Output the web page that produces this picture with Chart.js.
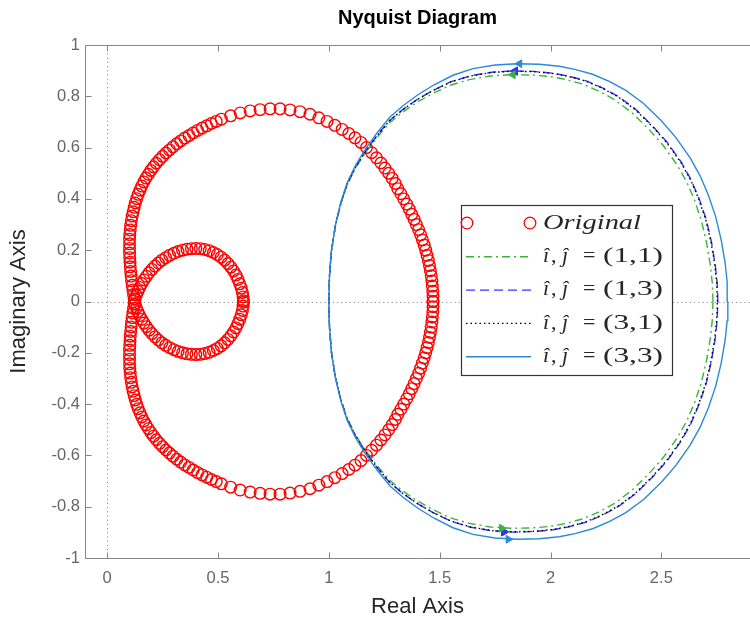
<!DOCTYPE html>
<html><head><meta charset="utf-8">
<script src="https://cdn.jsdelivr.net/npm/chart.js@4.4.0/dist/chart.umd.min.js"></script>
<style>html,body{margin:0;padding:0;background:#fff;}</style>
</head><body>
<canvas id="c" width="750" height="630"></canvas>
<script>
// ---------- tick labels ----------
const xTicks = [0, 0.5, 1, 1.5, 2, 2.5];
const yTicks = [-1, -0.8, -0.6, -0.4, -0.2, 0, 0.2, 0.4, 0.6, 0.8, 1];

// ---------- Original (red circles): outer loop, top, left side, inner loop ----------
const origRe = [1.470,1.470,1.469,1.467,1.465,1.462,1.458,1.454,1.449,1.443,1.437,1.430,1.422,1.414,1.405,1.395,1.385,1.374,1.363,1.351,1.338,1.325,1.311,1.300,1.286,1.270,1.253,1.235,1.215,1.193,1.170,1.145,1.118,1.090,1.060,1.027,0.992,0.955,
0.915,0.870,0.825,0.780,0.735,0.690,0.645,0.600,0.557,0.515,
0.492,0.470,0.449,0.428,0.408,0.388,0.369,0.350,0.332,0.314,0.297,0.281,0.265,0.250,0.236,0.222,0.209,0.197,0.186,0.175,0.165,0.156,0.148,0.140,0.133,0.127,0.122,0.117,0.113,0.109,0.106,0.104,0.102,0.101,0.101,0.101,0.101,0.102,0.103,0.104,0.106,0.108,0.110,0.113,0.116,0.119,0.122,
0.126,0.132,0.139,0.147,0.156,0.166,0.177,0.189,0.202,0.216,0.231,0.247,0.264,0.282,0.301,0.320,0.340,0.360,0.380,0.400,0.420,0.440,0.460,0.479,0.497,0.514,0.530,0.545,0.558,0.570,0.581,0.590,0.598,0.605,0.610,0.613,0.615];
const origImUpper = [0.000,0.020,0.040,0.060,0.080,0.100,0.120,0.140,0.160,0.180,0.200,0.220,0.240,0.260,0.280,0.300,0.320,0.340,0.360,0.380,0.400,0.420,0.440,0.460,0.480,0.500,0.520,0.540,0.560,0.580,0.600,0.620,0.638,0.655,0.671,0.687,0.702,0.716,
0.730,0.740,0.747,0.751,0.751,0.748,0.743,0.735,0.724,0.711,
0.702,0.694,0.685,0.676,0.667,0.657,0.647,0.637,0.626,0.615,0.603,0.591,0.579,0.566,0.553,0.539,0.525,0.511,0.496,0.481,0.466,0.450,0.434,0.418,0.401,0.384,0.367,0.350,0.333,0.315,0.297,0.279,0.261,0.243,0.225,0.207,0.189,0.171,0.153,0.135,0.117,0.099,0.081,0.063,0.045,0.027,0.009,
0.010,0.025,0.040,0.055,0.070,0.084,0.098,0.112,0.125,0.138,0.150,0.161,0.171,0.180,0.188,0.195,0.200,0.204,0.206,0.207,0.206,0.203,0.198,0.191,0.183,0.173,0.161,0.148,0.134,0.119,0.103,0.086,0.069,0.052,0.035,0.018,0.003];
const origImLower = [-0.000,-0.020,-0.040,-0.060,-0.080,-0.100,-0.120,-0.140,-0.160,-0.180,-0.200,-0.220,-0.240,-0.260,-0.280,-0.300,-0.320,-0.340,-0.360,-0.380,-0.400,-0.420,-0.440,-0.460,-0.480,-0.500,-0.520,-0.540,-0.560,-0.580,-0.600,-0.620,-0.638,-0.655,-0.671,-0.687,-0.702,-0.716,
-0.730,-0.740,-0.747,-0.751,-0.751,-0.748,-0.743,-0.735,-0.724,-0.711,
-0.702,-0.694,-0.685,-0.676,-0.667,-0.657,-0.647,-0.637,-0.626,-0.615,-0.603,-0.591,-0.579,-0.566,-0.553,-0.539,-0.525,-0.511,-0.496,-0.481,-0.466,-0.450,-0.434,-0.418,-0.401,-0.384,-0.367,-0.350,-0.333,-0.315,-0.297,-0.279,-0.261,-0.243,-0.225,-0.207,-0.189,-0.171,-0.153,-0.135,-0.117,-0.099,-0.081,-0.063,-0.045,-0.027,-0.009,
-0.010,-0.025,-0.040,-0.055,-0.070,-0.084,-0.098,-0.112,-0.125,-0.138,-0.150,-0.161,-0.171,-0.180,-0.188,-0.195,-0.200,-0.204,-0.206,-0.207,-0.206,-0.203,-0.198,-0.191,-0.183,-0.173,-0.161,-0.148,-0.134,-0.119,-0.103,-0.086,-0.069,-0.052,-0.035,-0.018,-0.003];

// ---------- approximations (upper half right->left; lower half right->left) ----------
const s11Re = [2.733,2.730,2.721,2.704,2.681,2.650,2.614,2.570,2.508,2.444,2.366,2.289,2.217,2.143,2.066,1.998,1.913,1.820,1.727,1.634,1.547,1.466,1.393,1.330,1.273,1.218,1.163,1.119,1.082,1.054,1.029,1.011,1.002,1.000];
const s11ImUpper = [0.000,0.071,0.143,0.229,0.315,0.395,0.467,0.534,0.609,0.671,0.737,0.787,0.821,0.848,0.866,0.877,0.883,0.884,0.879,0.865,0.843,0.810,0.774,0.736,0.696,0.640,0.578,0.518,0.454,0.382,0.294,0.196,0.098,0.000];
const s11ImLower = [-0.000,-0.071,-0.143,-0.229,-0.315,-0.395,-0.467,-0.534,-0.609,-0.671,-0.737,-0.787,-0.821,-0.848,-0.866,-0.877,-0.883,-0.884,-0.879,-0.865,-0.843,-0.810,-0.774,-0.736,-0.696,-0.640,-0.578,-0.518,-0.454,-0.382,-0.294,-0.196,-0.098,-0.000];

const s13Re = [2.755,2.752,2.743,2.726,2.702,2.670,2.634,2.590,2.527,2.462,2.383,2.305,2.232,2.158,2.080,2.012,1.925,1.830,1.735,1.640,1.552,1.470,1.396,1.332,1.275,1.219,1.164,1.120,1.083,1.055,1.030,1.012,1.003,1.000];
const s13ImUpper = [0.000,0.072,0.145,0.233,0.321,0.402,0.475,0.543,0.620,0.683,0.750,0.800,0.834,0.861,0.879,0.890,0.897,0.899,0.894,0.880,0.857,0.823,0.786,0.747,0.706,0.649,0.585,0.524,0.459,0.386,0.297,0.198,0.099,0.000];
const s13ImLower = [-0.000,-0.072,-0.145,-0.233,-0.321,-0.402,-0.475,-0.543,-0.620,-0.683,-0.750,-0.800,-0.834,-0.861,-0.879,-0.890,-0.897,-0.899,-0.894,-0.880,-0.857,-0.823,-0.786,-0.747,-0.706,-0.649,-0.585,-0.524,-0.459,-0.386,-0.297,-0.198,-0.099,-0.000];

const s31Re = [2.753,2.750,2.741,2.724,2.700,2.668,2.632,2.588,2.525,2.460,2.381,2.303,2.230,2.157,2.079,2.011,1.924,1.829,1.734,1.639,1.551,1.469,1.395,1.331,1.274,1.219,1.164,1.120,1.083,1.055,1.030,1.012,1.003,1.000];
const s31ImUpper = [0.000,0.072,0.145,0.232,0.320,0.401,0.474,0.542,0.619,0.682,0.749,0.799,0.833,0.860,0.878,0.889,0.896,0.898,0.893,0.879,0.856,0.822,0.785,0.746,0.705,0.648,0.584,0.523,0.458,0.385,0.296,0.197,0.099,0.000];
const s31ImLower = [-0.000,-0.072,-0.145,-0.232,-0.320,-0.401,-0.474,-0.542,-0.619,-0.682,-0.749,-0.799,-0.833,-0.860,-0.878,-0.889,-0.896,-0.898,-0.893,-0.879,-0.856,-0.822,-0.785,-0.746,-0.705,-0.648,-0.584,-0.523,-0.458,-0.385,-0.296,-0.197,-0.099,-0.000];

const s33Re = [2.800,2.797,2.788,2.770,2.745,2.712,2.675,2.630,2.565,2.500,2.420,2.340,2.265,2.190,2.110,2.040,1.950,1.850,1.750,1.650,1.560,1.475,1.400,1.335,1.277,1.220,1.164,1.120,1.083,1.055,1.030,1.012,1.003,1.000];
const s33ImUpper = [0.000,0.074,0.150,0.240,0.331,0.415,0.490,0.560,0.640,0.705,0.772,0.823,0.858,0.886,0.905,0.917,0.925,0.927,0.922,0.908,0.882,0.845,0.805,0.763,0.720,0.660,0.593,0.530,0.464,0.390,0.300,0.200,0.100,0.000];
const s33ImLower = [-0.000,-0.074,-0.150,-0.240,-0.331,-0.415,-0.490,-0.560,-0.640,-0.705,-0.772,-0.823,-0.858,-0.886,-0.905,-0.917,-0.925,-0.927,-0.922,-0.908,-0.882,-0.845,-0.805,-0.763,-0.720,-0.660,-0.593,-0.530,-0.464,-0.390,-0.300,-0.200,-0.100,-0.000];

// ---------- direction arrows (top, bottom) ----------
const arrow11Re = [1.83, 1.78], arrow11Im = [0.884, -0.884];
const arrow13Re = [1.84, 1.79], arrow13Im = [0.899, -0.899];
const arrow31Re = [1.84, 1.79], arrow31Im = [0.898, -0.898];
const arrow33Re = [1.86, 1.81], arrow33Im = [0.927, -0.927];
const arrowRot = [-90, 90];

const labels = ['Original', 'î,ĵ = (1,1)', 'î,ĵ = (1,3)', 'î,ĵ = (3,1)', 'î,ĵ = (3,3)'];

function pts(re, im) { return re.map((v, i) => ({x: v, y: im[i]})); }
function loop(re, up, lo) { return pts(re, up).concat(pts(re, lo).reverse()); }

const cGreen = '#3cb43c', cBlue = '#3535ff', cBlack = '#000000', cLight = '#2a8ad4', cRed = '#ff0000';

function lineDs(label, data, color, dash, order) {
  return {label, data, showLine: true, borderColor: color, backgroundColor: color, borderWidth: 1.4,
    borderDash: dash, pointRadius: 0, tension: 0, order, fill: false};
}
function arrowDs(re, im, color) {
  return {label: '', data: pts(re, im), showLine: false, pointStyle: 'triangle', pointRadius: 4.5,
    pointRotation: arrowRot, pointBackgroundColor: color, pointBorderColor: color, pointBorderWidth: 1, order: 0, isArrow: true};
}

const datasets = [
  {label: labels[0], data: pts(origRe, origImUpper).concat(pts(origRe, origImLower)), showLine: false,
   pointStyle: 'circle', pointRadius: 5.8, pointBorderWidth: 1.4, pointBorderColor: cRed,
   pointBackgroundColor: 'rgba(0,0,0,0)', borderColor: cRed, order: 6},
  lineDs(labels[1], loop(s11Re, s11ImUpper, s11ImLower), cGreen, [8, 4, 2, 4], 5),
  lineDs(labels[2], loop(s13Re, s13ImUpper, s13ImLower), cBlue, [9, 5], 4),
  lineDs(labels[3], loop(s31Re, s31ImUpper, s31ImLower), cBlack, [1.5, 3], 3),
  lineDs(labels[4], loop(s33Re, s33ImUpper, s33ImLower), cLight, [], 2),
  arrowDs(arrow11Re, arrow11Im, cGreen),
  arrowDs(arrow13Re, arrow13Im, cBlue),
  arrowDs(arrow31Re, arrow31Im, cBlack),
  arrowDs(arrow33Re, arrow33Im, cLight)
];

const axisColor = '#858585';
const framePlugin = {
  id: 'frame',
  beforeDatasetsDraw(chart) {
    const {ctx, chartArea: a, scales: {x, y}} = chart;
    ctx.save();
    ctx.strokeStyle = '#909090'; ctx.lineWidth = 1; ctx.setLineDash([1.2, 3]);
    const x0 = Math.round(x.getPixelForValue(0)) + 0.5;
    ctx.beginPath(); ctx.moveTo(x0, a.top); ctx.lineTo(x0, a.bottom); ctx.stroke();
    const y0 = Math.round(y.getPixelForValue(0)) + 0.5;
    ctx.beginPath(); ctx.moveTo(a.left, y0); ctx.lineTo(a.right, y0); ctx.stroke();
    ctx.restore();
  },
  afterDatasetsDraw(chart) {
    const {ctx, chartArea: a, scales: {x, y}} = chart;
    ctx.save();
    ctx.strokeStyle = axisColor; ctx.lineWidth = 1; ctx.setLineDash([]);
    const L = Math.round(a.left) + 0.5, T = Math.round(a.top) + 0.5, B = Math.round(a.bottom) + 0.5, R = a.right;
    ctx.beginPath();
    ctx.moveTo(L, T); ctx.lineTo(R, T);
    ctx.moveTo(L, T); ctx.lineTo(L, B);
    ctx.moveTo(L, B); ctx.lineTo(R, B);
    const tl = 6;
    x.ticks.forEach(t => { const px = Math.round(x.getPixelForValue(t.value)) + 0.5;
      ctx.moveTo(px, B); ctx.lineTo(px, B - tl); ctx.moveTo(px, T); ctx.lineTo(px, T + tl); });
    y.ticks.forEach(t => { const py = Math.round(y.getPixelForValue(t.value)) + 0.5;
      ctx.moveTo(L, py); ctx.lineTo(L + tl, py); });
    ctx.stroke();
    ctx.restore();
  }
};

const legendPlugin = {
  id: 'boxLegend',
  afterDraw(chart) {
    const ctx = chart.ctx;
    const bx = 461, by = 205, bw = 211, bh = 170;
    ctx.save();
    ctx.fillStyle = '#ffffff'; ctx.fillRect(bx, by, bw, bh);
    ctx.strokeStyle = '#333333'; ctx.lineWidth = 1.2; ctx.setLineDash([]);
    ctx.strokeRect(bx + 0.5, by + 0.5, bw, bh);
    const rowY0 = 223, rowH = 33.3, sx0 = 466, sx1 = 531, tx = 543;
    const dsList = chart.data.datasets.filter(d => !d.isArrow);
    dsList.forEach((d, i) => {
      const yy = rowY0 + i * rowH;
      ctx.save();
      if (!d.showLine) {
        ctx.strokeStyle = d.pointBorderColor; ctx.lineWidth = 1.3;
        [sx0 + 1, sx1 - 1].forEach(cx => { ctx.beginPath(); ctx.arc(cx, yy, 5.8, 0, Math.PI * 2); ctx.stroke(); });
      } else {
        ctx.strokeStyle = d.borderColor; ctx.lineWidth = 1.4; ctx.setLineDash(d.borderDash || []);
        ctx.beginPath(); ctx.moveTo(sx0, yy + 0.5); ctx.lineTo(sx1, yy + 0.5); ctx.stroke();
      }
      ctx.restore();
      ctx.save();
      ctx.fillStyle = '#262626'; ctx.textBaseline = 'middle';
      const fam = "'Liberation Serif', 'DejaVu Serif', serif";
      const drawFit = (txt, x, w, font) => {
        ctx.font = font; const m = ctx.measureText(txt).width;
        ctx.save(); ctx.translate(x, yy); ctx.scale(w / m, 1); ctx.fillText(txt, 0, 0); ctx.restore();
      };
      const m = /^(î),(ĵ) = \((.*)\)$/.exec(d.label);
      if (!m) {
        drawFit(d.label, tx, 98, 'italic 22px ' + fam);
      } else {
        ctx.font = 'italic 22px ' + fam; ctx.fillText(m[1], tx, yy);
        ctx.font = '22px ' + fam; ctx.fillText(',', tx + 8, yy);
        ctx.font = 'italic 22px ' + fam; ctx.fillText(m[2], tx + 19, yy);
        ctx.font = '22px ' + fam; ctx.fillText('=', tx + 40, yy);
        drawFit('(' + m[3] + ')', tx + 60, 60, '22px ' + fam);
      }
      ctx.restore();
    });
    ctx.restore();
  }
};

const fmt = v => String(Math.round(v * 10) / 10);

new Chart(document.getElementById('c'), {
  type: 'scatter',
  data: {datasets},
  options: {
    responsive: false, animation: false, devicePixelRatio: 1, events: [],
    layout: {padding: 0, autoPadding: false},
    plugins: {
      legend: {display: false}, tooltip: {enabled: false},
      title: {display: true, fullSize: false, text: 'Nyquist Diagram', color: '#000',
        font: {family: "'Liberation Sans', Arial, sans-serif", size: 20, weight: 'bold'},
        padding: {top: 6, bottom: 15}}
    },
    scales: {
      x: {type: 'linear', min: -0.1, max: 2.9,
        grid: {display: false, drawTicks: false}, border: {display: false},
        afterBuildTicks: s => { s.ticks = xTicks.map(v => ({value: v})); },
        afterFit: s => { s.height = 72; },
        ticks: {color: '#666', font: {family: "'Liberation Sans', Arial, sans-serif", size: 16.5}, padding: 11, callback: fmt, maxRotation: 0},
        title: {display: true, text: 'Real Axis', color: '#262626', padding: {top: 4, bottom: 10},
          font: {family: "'Liberation Sans', Arial, sans-serif", size: 22}}
      },
      y: {type: 'linear', min: -1, max: 1,
        grid: {display: false, drawTicks: false}, border: {display: false},
        afterBuildTicks: s => { s.ticks = yTicks.map(v => ({value: v})); },
        afterFit: s => { s.width = 85; },
        ticks: {color: '#666', font: {family: "'Liberation Sans', Arial, sans-serif", size: 16.5}, padding: 5, callback: fmt},
        title: {display: true, text: 'Imaginary Axis', color: '#262626', padding: {top: 6, bottom: 4},
          font: {family: "'Liberation Sans', Arial, sans-serif", size: 22}}
      }
    }
  },
  plugins: [framePlugin, legendPlugin]
});
</script>
</body></html>
